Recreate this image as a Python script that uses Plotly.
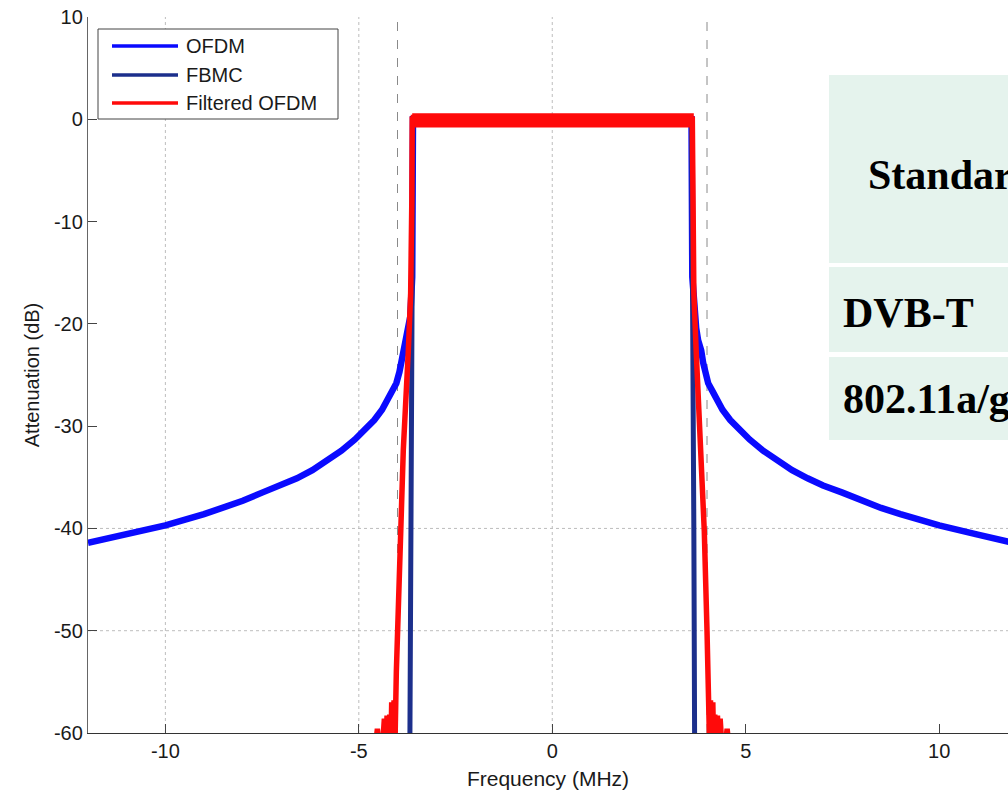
import plotly.graph_objects as go

# ---- spectra (frequency in MHz, power in dB) ----
ofdm_freq = [-12.0, -11.0, -10.0, -9.0, -8.5, -8.0, -7.5, -7.0, -6.6, -6.2, -5.8,
             -5.45, -5.1, -4.85, -4.6, -4.4, -4.25, -4.13, -4.03, -3.95, -3.9,
             -3.85, -3.77, -3.72, -3.67, -3.64, -3.62, -3.6,
             3.6, 3.62, 3.64, 3.67, 3.72, 3.77, 3.85, 3.9, 3.95, 4.03, 4.13, 4.25,
             4.4, 4.6, 4.85, 5.1, 5.45, 5.8, 6.2, 6.6, 7.0, 7.5, 8.0, 8.5, 9.0,
             10.0, 11.0, 11.8]
ofdm_db = [-41.4, -40.6, -39.7, -38.6, -38.0, -37.3, -36.5, -35.8, -35.1, -34.3, -33.3,
           -32.4, -31.3, -30.4, -29.4, -28.4, -27.4, -26.5, -25.8, -24.7, -23.8,
           -22.6, -21.6, -20.4, -19.3, -17.0, -15.4, 0.0,
           0.0, -15.4, -17.0, -19.3, -20.4, -21.6, -22.6, -23.8, -24.7, -25.8, -26.5, -27.4,
           -28.4, -29.4, -30.4, -31.3, -32.4, -33.3, -34.3, -35.1, -35.8, -36.5, -37.3, -38.0, -38.6,
           -39.7, -40.6, -41.3]

fbmc_freq = [-3.68, -3.66, -3.63, -3.6, 3.6, 3.63, 3.66, 3.68]
fbmc_db = [-61.0, -40.0, -15.0, 0.0, 0.0, -15.0, -40.0, -61.0]

fofdm_freq = [-4.56, -4.52, -4.48, -4.38, -4.34, -4.30, -4.27, -4.23, -4.20, -4.17,
              -4.15, -4.12, -4.09, -4.06, -4.03, -4.0, -3.93, -3.85, -3.72, -3.66,
              -3.63, -3.62,
              3.62, 3.63, 3.66, 3.72, 3.85, 3.93, 4.0, 4.03, 4.06, 4.09, 4.12, 4.15,
              4.17, 4.20, 4.23, 4.27, 4.30, 4.34, 4.38, 4.48, 4.52, 4.56]
fofdm_db = [-61.0, -59.6, -61.0, -61.0, -58.6, -61.0, -58.3, -61.0, -58.2, -61.0,
            -57.0, -61.0, -56.8, -60.0, -54.0, -50.0, -40.3, -32.3, -22.6, -17.0,
            -8.0, 0.0,
            0.0, -8.0, -17.0, -22.6, -32.3, -40.3, -50.0, -54.0, -60.0, -56.8, -61.0, -57.0,
            -61.0, -58.2, -61.0, -58.3, -61.0, -58.6, -61.0, -61.0, -59.6, -61.0]

# in-band ripple envelope of the filtered OFDM spectrum
fofdm_band_edge = 3.62
fofdm_ripple_hi = 0.45
fofdm_ripple_lo = -0.65

# channel edges (MHz)
channel_edges = [-4.0, 4.0]

x_ticks = [-10, -5, 0, 5, 10]
x_tick_text = ["-10", "-5", "0", "5", "10"]
y_ticks = [-60, -50, -40, -30, -20, -10, 0, 10]
y_tick_text = ["-60", "-50", "-40", "-30", "-20", "-10", "0", "10"]
x_grid = [-10, -5, 0]
y_grid = [-50, -40]

legend_names = ["OFDM", "FBMC", "Filtered OFDM"]
table_rows = ["Standard", "DVB-T", "802.11a/g"]

C_OFDM = "#0a0aff"
C_FBMC = "#1c2f8c"
C_FOFDM = "#ff0a0a"

# ---- page geometry (pixels) ----
W, H = 1008, 794
PL, PR, PT, PB = 88, 1008, 17, 733


def px(x):
    return (x - PL) / (PR - PL)


def py(y):
    return (PB - y) / (PB - PT)


fig = go.Figure()
fig.add_trace(go.Scatter(x=ofdm_freq, y=ofdm_db, mode="lines", name=legend_names[0],
                         line=dict(color=C_OFDM, width=6.5), showlegend=False))
fig.add_trace(go.Scatter(x=fbmc_freq, y=fbmc_db, mode="lines", name=legend_names[1],
                         line=dict(color=C_FBMC, width=5), showlegend=False))
fig.add_trace(go.Scatter(
    x=[-fofdm_band_edge, fofdm_band_edge, fofdm_band_edge, -fofdm_band_edge, -fofdm_band_edge],
    y=[fofdm_ripple_hi, fofdm_ripple_hi, fofdm_ripple_lo, fofdm_ripple_lo, fofdm_ripple_hi],
    mode="lines", fill="toself", fillcolor=C_FOFDM,
    line=dict(color=C_FOFDM, width=3), showlegend=False, hoverinfo="skip"))
fig.add_trace(go.Scatter(x=fofdm_freq, y=fofdm_db, mode="lines", name=legend_names[2],
                         line=dict(color=C_FOFDM, width=5.5), showlegend=False))

shapes = []
# dotted grid
for gx in x_grid:
    shapes.append(dict(type="line", xref="x", yref="y", x0=gx, x1=gx, y0=-60, y1=10,
                       line=dict(color="#bdbdbd", width=1, dash="dot"), layer="below"))
for gy in y_grid:
    shapes.append(dict(type="line", xref="paper", yref="y", x0=0, x1=1, y0=gy, y1=gy,
                       line=dict(color="#bdbdbd", width=1, dash="dot"), layer="below"))
# channel edge markers
for ex in channel_edges:
    shapes.append(dict(type="line", xref="x", yref="y", x0=ex, x1=ex, y0=-60, y1=10,
                       line=dict(color="#8a8a8a", width=1, dash="dash"), layer="below"))

# legend box
shapes.append(dict(type="rect", xref="paper", yref="paper",
                   x0=px(98), x1=px(338), y0=py(119), y1=py(29),
                   line=dict(color="#444444", width=1), fillcolor="white"))
legend_rows_y = [46, 75, 103]
legend_colors = [C_OFDM, C_FBMC, C_FOFDM]
annotations = []
for name, col, ly in zip(legend_names, legend_colors, legend_rows_y):
    shapes.append(dict(type="line", xref="paper", yref="paper",
                       x0=px(112), x1=px(178), y0=py(ly), y1=py(ly),
                       line=dict(color=col, width=3.5)))
    annotations.append(dict(xref="paper", yref="paper", x=px(184), y=py(ly),
                            text=name, showarrow=False, xanchor="left", yanchor="middle",
                            font=dict(family="Liberation Sans, Arial", size=20, color="#1a1a1a")))

# table panel
table_bands = [(75, 263), (267, 352), (357, 440)]
for y0, y1 in table_bands:
    shapes.append(dict(type="rect", xref="paper", yref="paper",
                       x0=px(829), x1=px(1012), y0=py(y1), y1=py(y0),
                       line=dict(width=0), fillcolor="#e5f3ed", layer="above"))
table_text_pos = [(866, 175), (841, 313), (841, 399)]
for txt, (tx, ty) in zip(table_rows, table_text_pos):
    annotations.append(dict(xref="paper", yref="paper", x=px(tx), y=py(ty),
                            text="<b>" + txt + "</b>",
                            showarrow=False, xanchor="left", yanchor="middle",
                            font=dict(family="Liberation Serif, Times New Roman", size=42,
                                      color="black")))

fig.update_layout(
    width=W, height=H,
    margin=dict(l=PL, r=W - PR, t=PT, b=H - PB, pad=0),
    plot_bgcolor="white", paper_bgcolor="white",
    font=dict(family="Liberation Sans, Arial", size=20, color="#1a1a1a"),
    shapes=shapes, annotations=annotations,
    xaxis=dict(range=[-12, 11.78], tickvals=x_ticks, ticktext=x_tick_text,
               showgrid=False, zeroline=False,
               showline=True, linecolor="#333333", linewidth=1.3,
               ticks="inside", ticklen=9, tickcolor="#444444",
               title=dict(text="Frequency (MHz)", font=dict(size=21), standoff=10)),
    yaxis=dict(range=[-60, 10], tickvals=y_ticks, ticktext=y_tick_text,
               showgrid=False, zeroline=False,
               showline=True, linecolor="#666666", linewidth=1.3,
               ticks="inside", ticklen=9, tickcolor="#444444",
               title=dict(text="Attenuation (dB)", font=dict(size=20), standoff=8)),
)

fig.write_html("out.html")
